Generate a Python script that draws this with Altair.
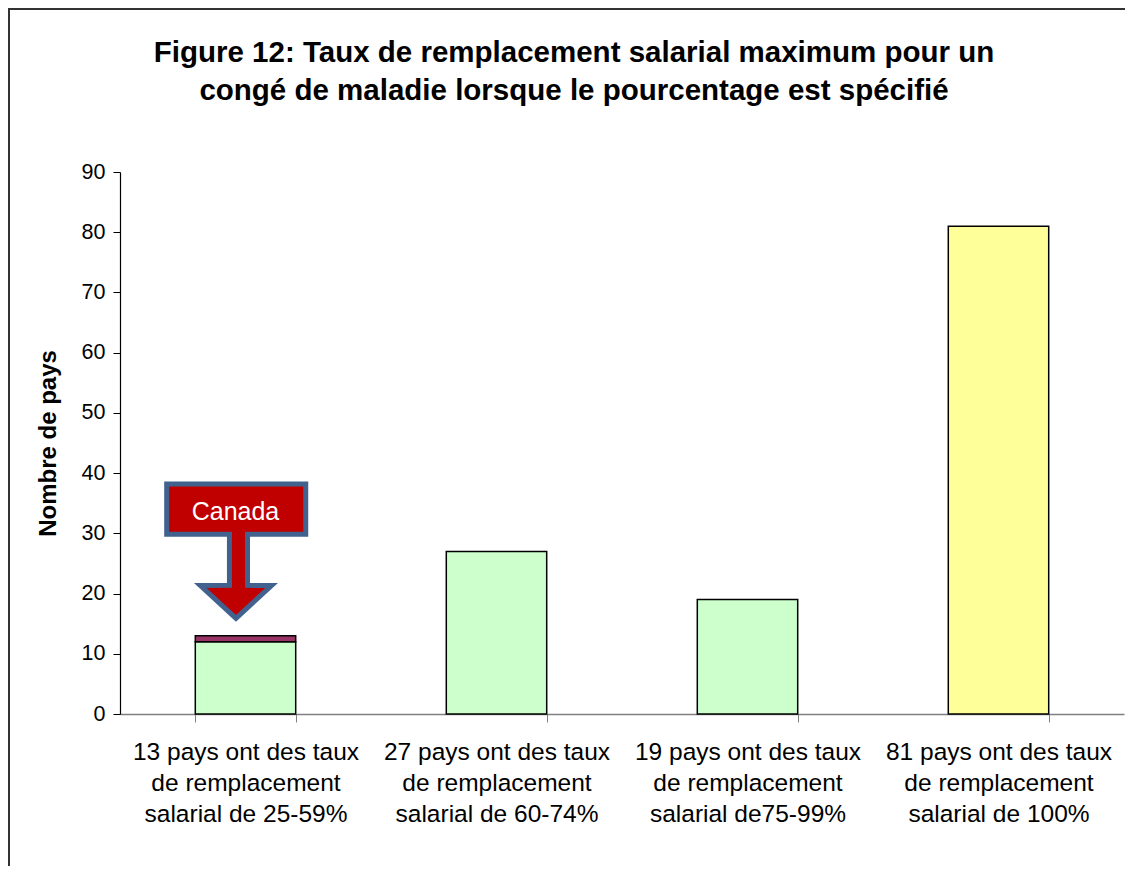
import altair as alt
import pandas as pd

# ---------------- data ----------------
categories = [
    "13 pays ont des taux|de remplacement|salarial de 25-59%",
    "27 pays ont des taux|de remplacement|salarial de 60-74%",
    "19 pays ont des taux|de remplacement|salarial de75-99%",
    "81 pays ont des taux|de remplacement|salarial de 100%",
]
series_names = ["Autres pays", "Canada", "Taux de 100%"]
autres = [12, 27, 19, 0]
canada = [1, 0, 0, 0]
cent = [0, 0, 0, 81]
series_colors = ["#CCFFCC", "#993366", "#FFFF99"]

title_lines = [
    "Figure 12: Taux de remplacement salarial maximum pour un",
    "congé de maladie lorsque le pourcentage est spécifié",
]
y_title = "Nombre de pays"
y_ticks = [0, 10, 20, 30, 40, 50, 60, 70, 80, 90]

# Canada callout arrow outline, in data units
# (x: category units 0-4, y: number of countries), from top to bottom
arrow_y = [38.2, 29.86, 29.84, 21.36, 21.34, 15.9]
arrow_x = [0.186, 0.186, 0.436, 0.436, 0.320, 0.462]
arrow_x2 = [0.740, 0.740, 0.508, 0.508, 0.604, 0.462]
arrow_label = ["Canada"]
arrow_label_x = [0.460]
arrow_label_y = [33.6]

FONT = "Liberation Sans"

# ---------------- tables ----------------
rows = []
for i, cat in enumerate(categories):
    for order, (name, vals) in enumerate(zip(series_names, [autres, canada, cent])):
        if vals[i] > 0:
            rows.append({"cat": cat, "series": name, "val": vals[i], "ord": order})
df = pd.DataFrame(rows)

arrow_df = pd.DataFrame({"val": arrow_y, "ax": arrow_x, "ax2": arrow_x2})
label_df = pd.DataFrame({"ax": arrow_label_x, "val": arrow_label_y, "label": arrow_label})

y_scale = alt.Scale(domain=[0, 90], nice=False)
ann_x_scale = alt.Scale(domain=[0, 4], nice=False, zero=False)

bars = alt.Chart(df).mark_bar(stroke="black", strokeWidth=1.5).encode(
    x=alt.X("cat:N", sort=categories,
            scale=alt.Scale(paddingInner=0.6, paddingOuter=0.3),
            axis=alt.Axis(title=None, labelAngle=0,
                          labelExpr="split(datum.label, '|')",
                          labelFont=FONT, labelFontSize=24.5, labelLineHeight=31,
                          labelColor="black", labelPadding=18, labelLimit=0,
                          labelBaseline="top",
                          tickBand="extent", tickSize=8, tickColor="#808080",
                          domainColor="#808080", domainWidth=1.5)),
    y=alt.Y("val:Q", stack="zero", scale=y_scale, title=y_title,
            axis=alt.Axis(values=y_ticks, grid=False, tickSize=7, tickColor="black",
                          domainColor="black", domainWidth=1.2,
                          labelFont=FONT, labelFontSize=21.5, labelColor="black",
                          labelPadding=8,
                          titleFont=FONT, titleFontSize=24, titleFontWeight="bold",
                          titleColor="black", titlePadding=21)),
    color=alt.Color("series:N", scale=alt.Scale(domain=series_names, range=series_colors),
                    legend=None),
    order=alt.Order("ord:Q"),
)

arrow = alt.Chart(arrow_df).mark_area(
    orient="horizontal", fill="#C00000", stroke="#41628E", strokeWidth=5,
    strokeJoin="miter", opacity=1, fillOpacity=1, interpolate="linear"
).encode(
    y=alt.Y("val:Q", scale=y_scale, title=y_title),
    x=alt.X("ax:Q", scale=ann_x_scale, axis=None, stack=None),
    x2="ax2:Q",
)

arrow_text = alt.Chart(label_df).mark_text(
    color="white", font=FONT, fontSize=25, align="center", baseline="middle"
).encode(
    x=alt.X("ax:Q", scale=ann_x_scale, axis=None),
    y=alt.Y("val:Q", scale=y_scale, title=y_title),
    text="label:N",
)

title_text = alt.Chart(alt.Data(values=[{"t": 1}])).mark_text(
    text=title_lines, font=FONT, fontSize=29.5, fontWeight="bold", color="black",
    align="center", baseline="alphabetic", lineHeight=38
).encode(x=alt.value(454), y=alt.value(-110))

frame = alt.Chart(alt.Data(values=[{"f": 1}])).mark_rect(
    fillOpacity=0, stroke="#333333", strokeWidth=2
).encode(x=alt.value(-111), x2=alt.value(1200), y=alt.value(-163), y2=alt.value(900))

chart = alt.layer(frame, bars, arrow, arrow_text, title_text).resolve_scale(
    x="independent"
).properties(
    width=1004, height=542,
    autosize=alt.AutoSizeParams(type="none"),
    padding={"left": 112, "top": 164, "right": 1, "bottom": 152},
    background="white",
).configure_view(stroke=None)

chart.save("out.html", embed_options={"renderer": "svg", "actions": False})
